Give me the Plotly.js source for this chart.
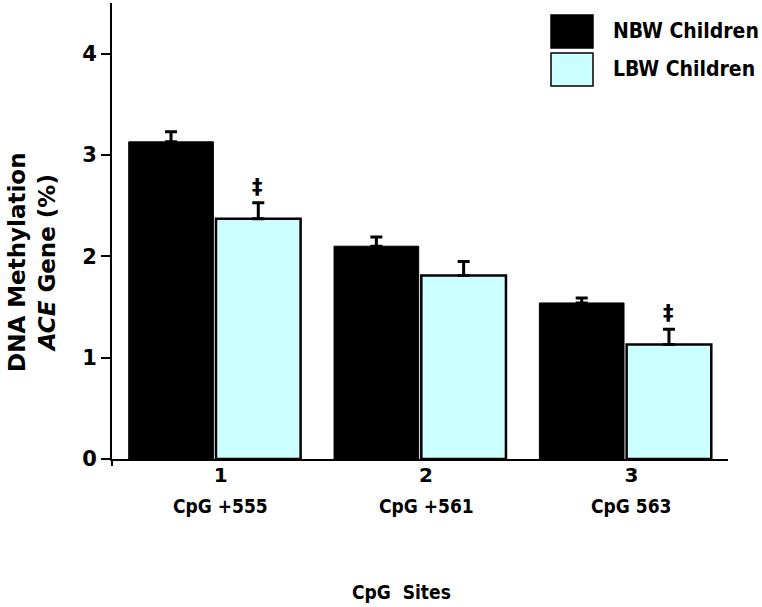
<!DOCTYPE html>
<html>
<head>
<meta charset="utf-8">
<script src="https://cdn.plot.ly/plotly-3.0.1.min.js"></script>
<style>
  body { margin: 0; background: #fff; }
  #barChart { width: 762px; height: 607px; }
</style>
</head>
<body>
<div id="barChart"></div>
<script>
// values
let sites = ["1", "2", "3"];
let siteNames = ["CpG +555", "CpG +561", "CpG 563"];
let nbwValues = [3.13, 2.10, 1.54];
let nbwErrors = [0.10, 0.09, 0.05];
let lbwValues = [2.37, 1.81, 1.13];
let lbwErrors = [0.16, 0.14, 0.15];
let lbwSignif = ["‡", "", "‡"];
let seriesNames = ["NBW Children", "LBW Children"];

let boldFont = "'DejaVu Sans', Verdana, sans-serif";
let narrowFont = "'DejaVu Sans Condensed', 'Liberation Sans Narrow', 'DejaVu Sans', sans-serif";
let cyan = "#ccffff";

let barData = [{
    x: sites,
    y: nbwValues,
    name: seriesNames[0],
    type: "bar",
    marker: {
      color: "#000000",
      line: { color: "#000000", width: 1 }
    },
    error_y: {
      type: "data",
      symmetric: false,
      array: nbwErrors,
      arrayminus: [0, 0, 0],
      color: "#000000",
      thickness: 3,
      width: 6
    }
  },
  {
    x: sites,
    y: lbwValues,
    name: seriesNames[1],
    type: "bar",
    marker: {
      color: cyan,
      line: { color: "#000000", width: 2.5 }
    },
    error_y: {
      type: "data",
      symmetric: false,
      array: lbwErrors,
      arrayminus: [0, 0, 0],
      color: "#000000",
      thickness: 3,
      width: 6
    }
  }
];

let annotations = [];
sites.forEach(function(s, i) {
  // significance marks above the LBW bars (x given as category index)
  if (lbwSignif[i]) {
    annotations.push({
      x: i, y: lbwValues[i] + lbwErrors[i],
      xref: "x", yref: "y",
      text: "<b>" + lbwSignif[i] + "</b>",
      showarrow: false,
      xshift: 43, yshift: 2,
      yanchor: "bottom",
      font: { family: boldFont, size: 21, color: "#000" }
    });
  }
  // site names under the tick numbers
  annotations.push({
    x: i, y: 0,
    xref: "x", yref: "paper",
    text: "<b>" + siteNames[i] + "</b>",
    showarrow: false,
    xshift: 6, yshift: -47,
    yanchor: "middle",
    font: { family: narrowFont, size: 19, color: "#000" }
  });
});

// y title, two lines, ACE in italics
annotations.push({
  xref: "paper", yref: "paper",
  x: 0, y: 0.43,
  xshift: -80,
  xanchor: "center", yanchor: "middle",
  text: "<b>DNA Methylation</b><br><b><i>ACE</i> Gene (%)</b>",
  textangle: -90,
  showarrow: false,
  font: { family: boldFont, size: 23, color: "#000" }
});

// x title
annotations.push({
  xref: "paper", yref: "paper",
  x: 0.47, y: 0,
  yshift: -133,
  yanchor: "middle",
  text: "<b>CpG  Sites</b>",
  showarrow: false,
  font: { family: narrowFont, size: 19, color: "#000" }
});

// legend, drawn by hand for the big swatches
let shapes = [];
let swatchColors = ["#000000", cyan];
seriesNames.forEach(function(name, i) {
  let top = 15 + i * 38;
  shapes.push({
    type: "rect", xref: "paper", yref: "paper",
    x0: (551 - 112) / 616, x1: (593 - 112) / 616,
    y0: 1 - (top + 33 - 3) / 456, y1: 1 - (top - 3) / 456,
    fillcolor: swatchColors[i],
    line: { color: "#000000", width: 1.5 }
  });
  annotations.push({
    xref: "paper", yref: "paper",
    x: (611 - 112) / 616, y: 1 - (top + 16 - 3) / 456,
    xanchor: "left", yanchor: "middle",
    text: "<b>" + name + "</b>",
    showarrow: false,
    font: { family: narrowFont, size: 21, color: "#000" }
  });
});

// y axis runs a little below zero
shapes.push({
  type: "line", xref: "paper", yref: "paper",
  x0: 0, x1: 0, y0: 0, y1: -7 / 456,
  line: { color: "#000", width: 2 }
});

let barLayout = {
  width: 762,
  height: 607,
  font: { family: boldFont, color: "#000" },
  paper_bgcolor: "#ffffff",
  plot_bgcolor: "#ffffff",
  showlegend: false,
  barmode: "group",
  bargap: 0.15,
  bargroupgap: 0.03,
  margin: { t: 3, l: 112, r: 34, b: 148 },
  xaxis: {
    type: "category",
    range: [-0.5, 2.5],
    tickvals: sites,
    ticktext: sites.map(function(s) { return "<b>" + s + "</b>"; }),
    ticks: "",
    ticklabelstandoff: -3,
    ticklabelshift: 6,
    showline: true,
    linecolor: "#000",
    linewidth: 2,
    showgrid: false,
    zeroline: false,
    tickfont: { family: boldFont, size: 20, color: "#000" }
  },
  yaxis: {
    range: [0, 4.5],
    tickvals: [0, 1, 2, 3, 4],
    ticktext: ["<b>0</b>", "<b>1</b>", "<b>2</b>", "<b>3</b>", "<b>4</b>"],
    ticks: "outside",
    ticklen: 9,
    tickwidth: 1.5,
    tickcolor: "#000",
    showline: true,
    linecolor: "#000",
    linewidth: 2,
    showgrid: false,
    zeroline: false,
    tickfont: { family: boldFont, size: 21, color: "#000" }
  },
  annotations: annotations,
  shapes: shapes
};

Plotly.newPlot("barChart", barData, barLayout, { displayModeBar: false });
</script>
</body>
</html>
